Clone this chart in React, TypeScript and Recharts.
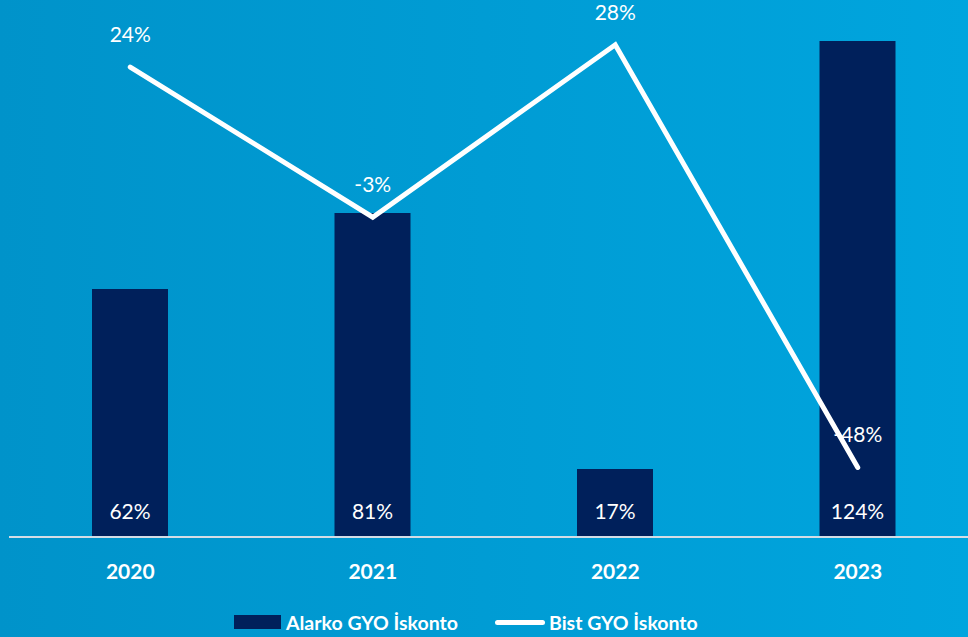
import React from 'react';
import { ComposedChart, Bar, Line, XAxis, YAxis, LabelList, Legend } from 'recharts';

const years = ['2020', '2021', '2022', '2023'];
const alarkoIskonto = [62, 81, 17, 124];
const bistIskonto = [24, -3, 28, -48];
const seriesNames = ['Alarko GYO İskonto', 'Bist GYO İskonto'];

const data = years.map((y, i) => ({ year: y, alarko: alarkoIskonto[i], bist: bistIskonto[i] }));

const NAVY = '#00205b';
const FONT = 'Lato, "Open Sans", sans-serif';

const pct = (v: any) => `${v}%`;

const LegendContent = () => (
  <div style={{ position: 'relative', height: 40, width: 968, fontFamily: FONT }}>
    <div style={{ position: 'absolute', left: 234, top: 15, height: 20, display: 'flex', alignItems: 'center' }}>
      <span style={{ display: 'inline-block', width: 47, height: 14, background: NAVY, marginRight: 5 }} />
      <span style={{ color: '#fff', fontWeight: 700, fontSize: 19.5 }}>{seriesNames[0]}</span>
    </div>
    <div style={{ position: 'absolute', left: 495, top: 15, height: 20, display: 'flex', alignItems: 'center' }}>
      <span style={{ display: 'inline-block', width: 50, height: 5, borderRadius: 3, background: '#fff', marginRight: 4 }} />
      <span style={{ color: '#fff', fontWeight: 700, fontSize: 19.5 }}>{seriesNames[1]}</span>
    </div>
  </div>
);

export default function App() {
  return (
    <div
      style={{
        position: 'absolute',
        left: 0,
        top: 0,
        width: 968,
        height: 637,
        overflow: 'hidden',
        background: 'linear-gradient(to right, #0093ca, #00a5de)',
      }}
    >
      <ComposedChart
        width={990}
        height={637}
        data={data}
        margin={{ top: 17, right: 11, bottom: 0, left: 9 }}
        style={{ fontFamily: FONT }}
      >
        <XAxis
          dataKey="year"
          xAxisId="x"
          height={60}
          tickLine={false}
          tickMargin={21}
          axisLine={{ stroke: '#d4dde6', strokeWidth: 2 }}
          tick={{ fill: '#ffffff', fontSize: 21, fontWeight: 700, fontFamily: FONT }}
        />
        <YAxis yAxisId="bar" domain={[0, 130]} hide />
        <YAxis yAxisId="line" orientation="right" domain={[-60.5, 33]} hide />
        <Bar xAxisId="x" yAxisId="bar" dataKey="alarko" name={seriesNames[0]} fill={NAVY} barSize={76} isAnimationActive={false}>
          <LabelList dataKey="alarko" position="insideBottom" offset={18} formatter={pct} fill="#ffffff" fontSize={21} fontFamily={FONT} />
        </Bar>
        <Line
          xAxisId="x"
          yAxisId="line"
          dataKey="bist"
          name={seriesNames[1]}
          type="linear"
          stroke="#ffffff"
          strokeWidth={5}
          strokeLinecap="round"
          strokeLinejoin="miter"
          dot={false}
          activeDot={false}
          isAnimationActive={false}
        >
          <LabelList dataKey="bist" position="top" offset={25} formatter={pct} fill="#ffffff" fontSize={21} fontFamily={FONT} />
        </Line>
        <Legend
          verticalAlign="bottom"
          content={<LegendContent />}
          wrapperStyle={{ left: 0, width: 968, height: 40 }}
        />
      </ComposedChart>
    </div>
  );
}
